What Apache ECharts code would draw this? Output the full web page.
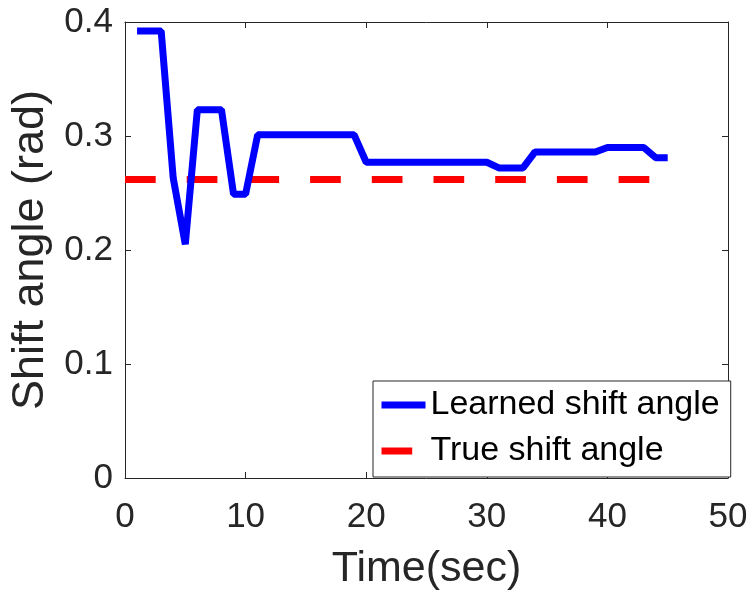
<!DOCTYPE html>
<html>
<head>
<meta charset="utf-8">
<script src="https://cdn.jsdelivr.net/npm/echarts@6/dist/echarts.min.js"></script>
<style>html,body{margin:0;padding:0;background:#fff}#c{width:754px;height:599px}</style>
</head>
<body>
<div id="c"></div>
<script>
var timeSec = [1,2,3,4,5,6,7,8,9,10,11,12,13,14,15,16,17,18,19,20,21,22,23,24,25,26,27,28,29,30,31,32,33,34,35,36,37,38,39,40,41,42,43,44,45];
var learnedAngle = [0.392,0.392,0.392,0.263,0.205,0.323,0.323,0.323,0.249,0.249,
  0.301,0.301,0.301,0.301,0.301,0.301,0.301,0.301,0.301,
  0.277,0.277,0.277,0.277,0.277,0.277,0.277,0.277,0.277,0.277,0.277,
  0.272,0.272,0.272,
  0.286,0.286,0.286,0.286,0.286,0.286,
  0.290,0.290,0.290,0.290,
  0.281,0.281];
var trueTime = [0, 45];
var trueAngle = [0.2618, 0.2618];
var xTicks = [0,10,20,30,40,50];
var yTicks = [0,0.1,0.2,0.3,0.4];
var seriesNames = ['Learned shift angle','True shift angle'];

var ff = '"Liberation Sans", Arial, Helvetica, sans-serif';
var axCol = '#262626';
function pairs(xs, ys){ return xs.map(function(x,i){ return [x, ys[i]]; }); }

var chart = echarts.init(document.getElementById('c'), null, {renderer:'canvas'});
var baseAxis = {
  axisLine:{show:true, onZero:false, lineStyle:{color:axCol, width:1}},
  axisTick:{show:true, inside:true, length:6, lineStyle:{color:axCol, width:1}},
  splitLine:{show:false}
};
chart.setOption({
  animation:false,
  backgroundColor:'#fff',
  grid:{left:123, right:26, top:22, bottom:121},
  legend:{
    orient:'vertical', left:373, top:381,
    data:seriesNames,
    itemWidth:44, itemHeight:7, itemGap:6,
    padding:[4,11,6,5],
    borderColor:axCol, borderWidth:1, backgroundColor:'#fff',
    textStyle:{fontFamily:ff, fontSize:34, color:'#000', lineHeight:40, padding:[0,0,0,0]},
    lineStyle:{width:7},
    itemStyle:{opacity:0}
  },
  xAxis:[
    Object.assign({}, baseAxis, {
      type:'value', min:0, max:50, interval:10, position:'bottom',
      name:'Time(sec)', nameLocation:'middle', nameGap:70,
      nameTextStyle:{fontFamily:ff, fontSize:43, color:axCol},
      axisLabel:{fontFamily:ff, fontSize:35, color:axCol, margin:22,
        formatter:function(v){ return xTicks.indexOf(v)>=0 ? String(v) : ''; }}
    }),
    Object.assign({}, baseAxis, {
      type:'value', min:0, max:50, interval:10, position:'top',
      axisLabel:{show:false}
    })
  ],
  yAxis:[
    Object.assign({}, baseAxis, {
      type:'value', min:0, max:0.4, interval:0.1, position:'left',
      name:'Shift angle (rad)', nameLocation:'middle', nameGap:72,
      nameTextStyle:{fontFamily:ff, fontSize:45, color:axCol},
      axisLabel:{fontFamily:ff, fontSize:35, color:axCol, margin:12,
        formatter:function(v){
          for (var i=0;i<yTicks.length;i++){ if (Math.abs(yTicks[i]-v)<1e-9) return yTicks[i]===0?'0':String(yTicks[i]); }
          return '';
        }}
    }),
    Object.assign({}, baseAxis, {
      type:'value', min:0, max:0.4, interval:0.1, position:'right',
      axisLabel:{show:false}
    })
  ],
  series:[
    {
      name:seriesNames[0], type:'line', xAxisIndex:0, yAxisIndex:0,
      data:pairs(timeSec, learnedAngle),
      symbol:'none', showSymbol:false,
      lineStyle:{color:'#0000ff', width:7},
      itemStyle:{color:'#0000ff'},
      z:3
    },
    {
      name:seriesNames[1], type:'line', xAxisIndex:0, yAxisIndex:0,
      data:pairs(trueTime, trueAngle),
      symbol:'none', showSymbol:false,
      lineStyle:{color:'#ff0000', width:7, type:[30.7,31]},
      itemStyle:{color:'#ff0000'},
      z:2
    }
  ]
});
</script>
</body>
</html>
